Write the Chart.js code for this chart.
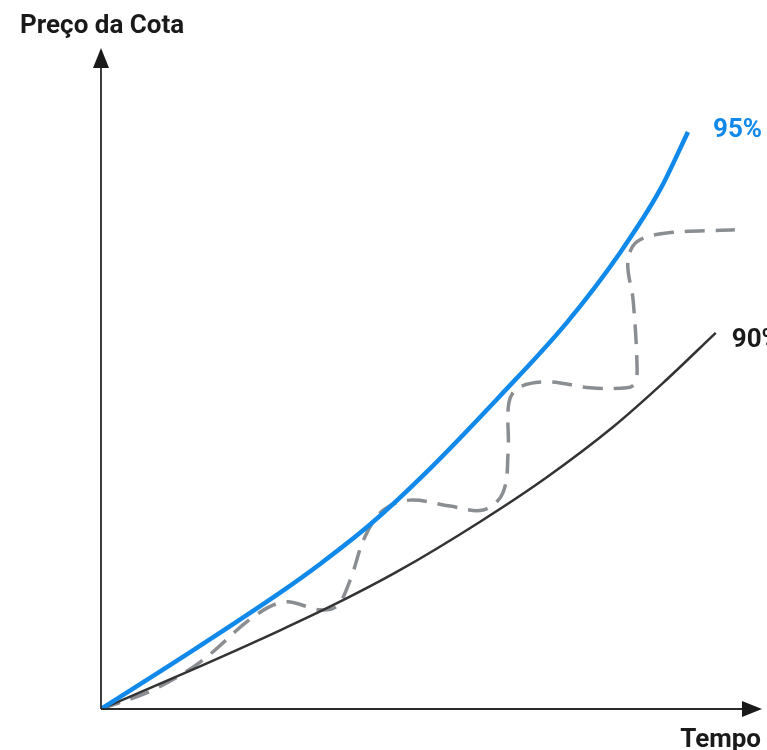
<!DOCTYPE html>
<html>
<head>
<meta charset="utf-8">
<script src="https://cdn.jsdelivr.net/npm/chart.js@4/dist/chart.umd.min.js"></script>
<style>
  html, body { margin:0; padding:0; background:#fff; }
  #wrap { position:relative; width:767px; height:750px; overflow:hidden; }
</style>
</head>
<body>
<div id="wrap"><canvas id="graph" width="767" height="750"></canvas></div>
<script>
// Values (time 0-100, price 0-100)
const x95 = [0, 13.5, 27.1, 33.1, 40.7, 48.7, 60.4, 70.5, 78.5, 84.6, 88.8];
const y95 = [0, 8.6, 17.6, 21.9, 27.9, 35.3, 47.4, 58.5, 69.0, 78.6, 87.3];

const x90 = [0, 13.5, 27.1, 35.7, 45.2, 57.3, 67.5, 77.5, 85.0, 93.0];
const y90 = [0, 5.8, 11.9, 16.0, 21.0, 28.3, 35.1, 42.7, 49.3, 56.9];

const xCota = [0, 7.9, 15.0, 23.0, 27.8, 33.1, 35.7, 37.7, 39.9, 42.7, 46.7, 52.8, 57.8, 60.8, 61.6, 61.7, 63.1, 67.5, 74.0, 79.6, 80.8, 81.1, 80.5, 79.7, 81.1, 85.6, 95.9];
const yCota = [0, 2.9, 7.1, 13.9, 16.2, 15.0, 15.6, 19.5, 26.0, 30.1, 31.6, 30.7, 30.1, 32.7, 39.2, 46.3, 48.6, 49.5, 48.6, 48.6, 49.3, 51.7, 61.9, 67.6, 70.7, 72.0, 72.5];

const labels = { y:'Preço da Cota', x:'Tempo', s95:'95%', s90:'90%' };

const pts = (xs, ys) => xs.map((x, i) => ({ x, y: ys[i] }));

// Axes with arrow heads + texts
const decor = {
  id: 'decor',
  afterDraw(chart) {
    const ctx = chart.ctx;
    const sx  = chart.scales.x;
    const sy  = chart.scales.y;
    const x0 = sx.getPixelForValue(0), x1 = sx.getPixelForValue(100);
    const y0 = sy.getPixelForValue(0), y1 = sy.getPixelForValue(100);

    ctx.save();
    ctx.strokeStyle = '#2b2b2b';
    ctx.fillStyle   = '#1a1a1a';
    ctx.lineWidth   = 1.8;
    ctx.beginPath();
    ctx.moveTo(x0, y0); ctx.lineTo(x0, y1 + 16);
    ctx.moveTo(x0, y0); ctx.lineTo(x1 - 16, y0);
    ctx.stroke();
    ctx.beginPath();
    ctx.moveTo(x0, y1); ctx.lineTo(x0 - 8, y1 + 20); ctx.lineTo(x0 + 8, y1 + 20); ctx.closePath();
    ctx.fill();
    ctx.beginPath();
    ctx.moveTo(x1, y0); ctx.lineTo(x1 - 20, y0 - 8); ctx.lineTo(x1 - 20, y0 + 8); ctx.closePath();
    ctx.fill();

    ctx.font = 'bold 26px Roboto';
    ctx.textBaseline = 'alphabetic';
    ctx.textAlign = 'left';
    ctx.fillText(labels.y, 20, 33);
    ctx.textAlign = 'right';
    ctx.fillText(labels.x, 761, 747);

    // end-of-line labels
    ctx.textAlign = 'left';
    const e95 = chart.getDatasetMeta(0).data.at(-1);
    const e90 = chart.getDatasetMeta(1).data.at(-1);
    ctx.fillStyle = '#1189ea';
    ctx.fillText(labels.s95, e95.x + 25, e95.y + 5);
    ctx.fillStyle = '#1a1a1a';
    ctx.fillText(labels.s90, e90.x + 16, e90.y + 14);
    ctx.restore();
  },
};

const chart = new Chart(graph, {
  type: 'line',
  data: {
    datasets: [{
      data: pts(x95, y95),
      borderColor: '#1189ea',
      borderWidth: 4.5,
      cubicInterpolationMode: 'monotone',
    }, {
      data: pts(x90, y90),
      borderColor: '#333333',
      borderWidth: 2.5,
      cubicInterpolationMode: 'monotone',
    }, {
      data: pts(xCota, yCota),
      borderColor: '#8a8e92',
      borderWidth: 3.5,
      borderDash: [20, 11],
      tension: 0.35,
    }],
  },
  options: {
    responsive: false,
    animation: false,
    devicePixelRatio: 1,
    layout: { padding: { left:101, right:5, top:48, bottom:41 } },
    elements: { point: { radius:0 }, line: { borderCapStyle:'butt' } },
    scales: {
      x: { type:'linear', min:0, max:100, display:false },
      y: { type:'linear', min:0, max:100, display:false },
    },
    plugins: {
      legend: { display:false },
      tooltip: { enabled:false },
    },
  },
  plugins: [decor],
});
</script>
</body>
</html>
